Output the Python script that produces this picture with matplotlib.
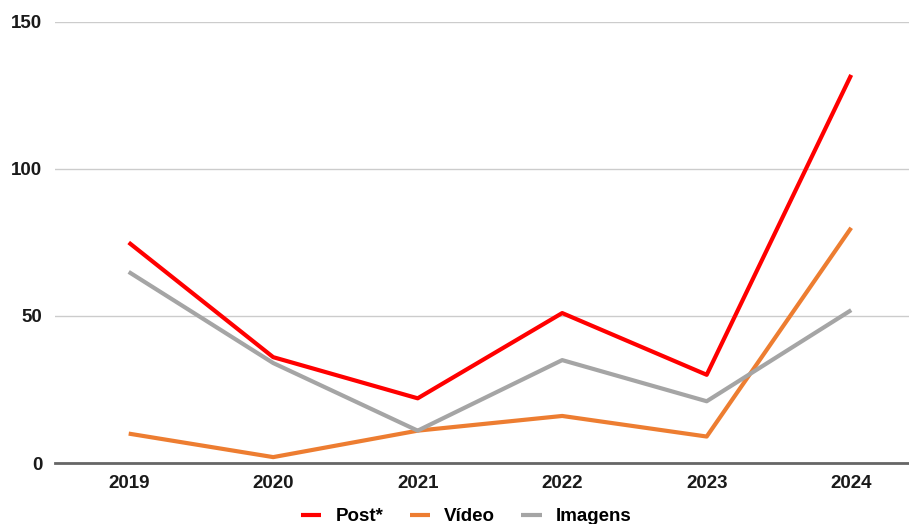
import matplotlib.pyplot as plt

plt.rcParams['font.family'] = ['Liberation Sans', 'DejaVu Sans']
plt.rcParams['font.weight'] = 'bold'

# Données
years = ["2019", "2020", "2021", "2022", "2023", "2024"]
post = [75, 36, 22, 51, 30, 132]
video = [10, 2, 11, 16, 9, 80]
imagens = [65, 34, 11, 35, 21, 52]

fig = plt.figure(figsize=(9.09, 5.24), dpi=100)
ax = fig.add_axes([55 / 909, 1 - 463 / 524, 1 - 55 / 909, (463 - 22) / 524])

x = range(len(years))
ax.plot(x, post, color="#ff0000", linewidth=3, label="Post*", solid_capstyle="butt")
ax.plot(x, video, color="#ed7d31", linewidth=3, label="Vídeo", solid_capstyle="butt")
ax.plot(x, imagens, color="#a5a5a5", linewidth=3, label="Imagens", solid_capstyle="butt")

ax.set_xlim(-0.51, 5.40)
ax.set_ylim(0, 150)
ax.set_yticks([0, 50, 100, 150])
ax.set_xticks(list(x))
ax.set_xticklabels(years)
ax.tick_params(axis="both", length=0, labelsize=13.5, colors="#1a1a1a")
ax.tick_params(axis="x", pad=9)
ax.tick_params(axis="y", pad=9)

ax.grid(axis="y", color="#cccccc", linewidth=1)
ax.set_axisbelow(True)
for s in ["top", "right", "left"]:
    ax.spines[s].set_visible(False)
ax.spines["bottom"].set_color("#666666")
ax.spines["bottom"].set_linewidth(2)

fig.legend(loc="lower center", bbox_to_anchor=(0.513, -0.035), ncol=3, frameon=False,
           fontsize=13.5, handlelength=1.1, columnspacing=1.4, handletextpad=0.75)

fig.savefig("out.png", dpi=100)
